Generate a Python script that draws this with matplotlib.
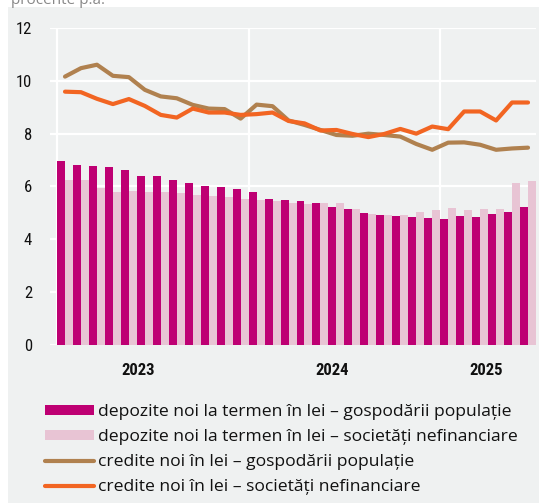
import matplotlib
matplotlib.use("Agg")
import numpy as np
import matplotlib.pyplot as plt
from matplotlib import font_manager
from matplotlib.patches import Rectangle, Patch
from matplotlib.lines import Line2D

# monthly series, Jan 2023 .. Jun 2025 (% p.a.)
dep_hh = [6.96, 6.82, 6.77, 6.73, 6.63, 6.40, 6.40, 6.26, 6.14, 6.01,
          5.98, 5.91, 5.78, 5.54, 5.48, 5.45, 5.38, 5.22, 5.15, 4.99,
          4.91, 4.89, 4.84, 4.81, 4.78, 4.88, 4.84, 4.96, 5.03, 5.24]
dep_nfc = [6.24, 6.26, 5.95, 5.80, 5.82, 5.80, 5.78, 5.75, 5.66, 5.64,
           5.61, 5.53, 5.49, 5.45, 5.38, 5.33, 5.38, 5.38, 5.15, 4.97,
           4.92, 4.92, 5.03, 5.11, 5.19, 5.11, 5.15, 5.15, 6.14, 6.20]
cred_hh = [10.16, 10.48, 10.61, 10.19, 10.14, 9.66, 9.41, 9.34, 9.09, 8.95,
           8.93, 8.57, 9.10, 9.04, 8.50, 8.33, 8.14, 7.95, 7.92, 8.00,
           7.95, 7.89, 7.61, 7.39, 7.66, 7.67, 7.58, 7.39, 7.44, 7.47]
cred_nfc = [9.59, 9.57, 9.32, 9.12, 9.31, 9.05, 8.71, 8.61, 8.95, 8.80,
            8.80, 8.71, 8.74, 8.80, 8.48, 8.39, 8.12, 8.14, 7.99, 7.87,
            7.99, 8.18, 8.00, 8.27, 8.17, 8.84, 8.84, 8.50, 9.18, 9.18]
years = ["2023", "2024", "2025"]
year_pos = [4.6, 16.7, 26.4]
labels = ["depozite noi la termen în lei – gospodării populație",
          "depozite noi la termen în lei – societăți nefinanciare",
          "credite noi în lei – gospodării populație",
          "credite noi în lei – societăți nefinanciare"]

C_DARK = "#BE0073"
C_LIGHT = "#E8C4D4"
C_BROWN = "#B0814F"
C_ORANGE = "#F26522"
BG = "#EFF1F1"

avail = {f.name for f in font_manager.fontManager.ttflist}
def pick(*names):
    for n in names:
        if n in avail:
            return n
    return "DejaVu Sans"
NARROW = pick("Liberation Sans Narrow", "Roboto Condensed", "DejaVu Sans Condensed", "Roboto")
TXT = pick("Open Sans", "Noto Sans", "Lato")

fig = plt.figure(figsize=(5.39, 5.03), dpi=100)
fig.patch.set_facecolor("white")
fig.patches.append(Rectangle((8 / 539, 0), 1, 1 - 7 / 503, transform=fig.transFigure,
                             facecolor=BG, edgecolor="none", zorder=-5))
fig.text(0.02, 1.0, "procente p.a.", color="#888888", fontsize=11, family=TXT, va="center")

ax = fig.add_axes([50 / 539, 1 - 345 / 503, 486 / 539, 317 / 503])
ax.set_facecolor(BG)
for s in ax.spines.values():
    s.set_visible(False)

x = np.arange(len(dep_hh))
ax.bar(x - 0.25, dep_hh, width=0.5, color=C_DARK, zorder=3)
ax.bar(x + 0.25, dep_nfc, width=0.5, color=C_LIGHT, zorder=3)
ax.plot(x, cred_hh, color=C_BROWN, lw=3.0, zorder=4, solid_capstyle="round")
ax.plot(x, cred_nfc, color=C_ORANGE, lw=3.0, zorder=5, solid_capstyle="round")

ax.set_ylim(0, 12)
ax.set_xlim(-0.94, 29.5)
ax.set_yticks([0, 2, 4, 6, 8, 10, 12])
ax.set_yticklabels([str(v) for v in [0, 2, 4, 6, 8, 10, 12]], family=NARROW, fontsize=12)
ax.grid(axis="y", color="white", lw=1.6, zorder=1)
for v in [-0.5, 11.5, 23.5]:
    ax.axvline(v, color="white", lw=1.6, zorder=1)
ax.set_xticks([])
ax.tick_params(axis="y", length=0, pad=13, colors="#111111")
for yr, p in zip(years, year_pos):
    ax.text(p, -0.95, yr, ha="center", va="center", family=NARROW, fontsize=12,
            fontweight="bold", color="#111111")

handles = [Patch(facecolor=C_DARK, edgecolor="none"),
           Patch(facecolor=C_LIGHT, edgecolor="none"),
           Line2D([], [], color=C_BROWN, lw=3.0, solid_capstyle="round"),
           Line2D([], [], color=C_ORANGE, lw=3.0, solid_capstyle="round")]
leg = fig.legend(handles, labels, loc="upper left", bbox_to_anchor=(38 / 539, 1 - 397 / 503),
                 frameon=False, fontsize=12.6, handlelength=2.8, handleheight=0.5,
                 handletextpad=0.2, labelspacing=0.52, borderaxespad=0)
for t in leg.get_texts():
    t.set_family(TXT)
    t.set_color("#111111")

fig.savefig("out.png", dpi=100, facecolor="white")
